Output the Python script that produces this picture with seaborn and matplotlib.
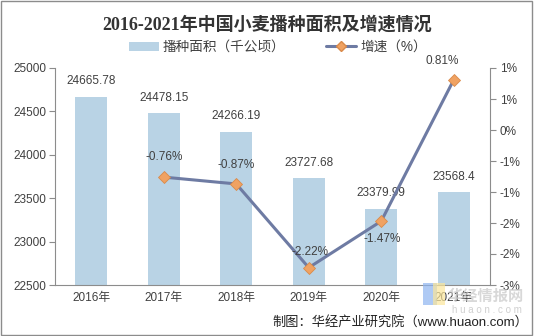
import numpy as np
import pandas as pd
import matplotlib
matplotlib.use("Agg")
import matplotlib.pyplot as plt
import seaborn as sns
from matplotlib.patches import Rectangle
from matplotlib.lines import Line2D
from matplotlib.patches import Patch

years = ["2016年", "2017年", "2018年", "2019年", "2020年", "2021年"]
area = [24665.78, 24478.15, 24266.19, 23727.68, 23379.99, 23568.4]
area_labels = ["24665.78", "24478.15", "24266.19", "23727.68", "23379.99", "23568.4"]
growth_years = ["2017年", "2018年", "2019年", "2020年", "2021年"]
growth = [-0.76, -0.87, -2.22, -1.47, 0.81]
left_ticks = [22500, 23000, 23500, 24000, 24500, 25000]
right_ticks = [-2.5, -2.0, -1.5, -1.0, -0.5, 0.0, 0.5, 1.0]

sns.set_style("white")
FAM = ["Liberation Sans", "Noto Sans CJK SC", "DejaVu Sans"]
plt.rcParams["font.family"] = FAM

BAR_C = "#B9D3E5"
LINE_C = "#6E7BA3"
MARK_C = "#F0A262"
TXT = "#404040"
AX_C = "#8C8C8C"

fig = plt.figure(figsize=(5.34, 3.36), dpi=100)
ax = fig.add_axes([55/534, 1-285/336, (490-55)/534, (285-68)/336])

df = pd.DataFrame({"year": years, "area": area})
sns.barplot(data=df, x="year", y="area", color=BAR_C, width=0.44, ax=ax,
            saturation=1, edgecolor="none")
ax.set_ylim(22500, 25000)
ax.set_xlim(-0.5, len(years) - 0.5)
ax.set_yticks(left_ticks)
ax.set_yticklabels([str(v) for v in left_ticks], fontsize=8.5, color=TXT)
ax.set_xlabel("")
ax.set_ylabel("")
ax.tick_params(axis="x", length=0, labelsize=8.5, labelcolor=TXT, pad=5)
ax.set_xticks(np.arange(-0.5, len(years)), minor=True)
ax.tick_params(axis="x", which="minor", length=4, color=AX_C, width=0.8)
ax.tick_params(axis="y", length=4, color=AX_C, width=0.8, pad=2, direction="out")
for s in ["top", "right"]:
    ax.spines[s].set_visible(False)
for s in ["left", "bottom"]:
    ax.spines[s].set_color(AX_C)
    ax.spines[s].set_linewidth(0.8)

for i, (v, lab) in enumerate(zip(area, area_labels)):
    ax.annotate(lab, (i, v), xytext=(0, 7), textcoords="offset points",
                ha="center", va="bottom", fontsize=8.5, color=TXT)

ax2 = ax.twinx()
gx = [years.index(y) for y in growth_years]
sns.lineplot(x=gx, y=growth, ax=ax2, color=LINE_C, linewidth=2.2,
             marker="D", markersize=6, markerfacecolor=MARK_C,
             markeredgecolor="#D98A4A", markeredgewidth=0.6)
ax2.set_ylim(-2.5, 1.0)
ax2.set_yticks(right_ticks)
def fmt(v):
    r = int(np.sign(v) * np.floor(abs(v) + 0.5))
    return f"{r}%"
ax2.set_yticklabels([fmt(v) for v in right_ticks], fontsize=8.5, color=TXT)
ax2.tick_params(axis="y", length=4, color=AX_C, width=0.8, pad=3)
for s in ["top", "left", "bottom"]:
    ax2.spines[s].set_visible(False)
ax2.spines["right"].set_color(AX_C)
ax2.spines["right"].set_linewidth(0.8)
ax2.set_xlim(-0.5, len(years) - 0.5)

offsets = [(0, 10), (0, 9), (1, 7), (1, -17), (-8, 9)]
for x, v, off in zip(gx, growth, offsets):
    ax2.annotate(f"{v:.2f}%", (x, v), xytext=off, textcoords="offset points",
                 ha="center", va="bottom", fontsize=8.5, color=TXT)

fig.text(0.5, 1-25/336, "2016-2021年中国小麦播种面积及增速情况", ha="center", va="center",
         fontsize=13, fontweight="bold", color="#333333",
         family=["Liberation Serif", "Noto Sans CJK SC"])

handles = [Patch(facecolor=BAR_C, edgecolor="none"),
           Line2D([0], [0], color=LINE_C, lw=2.2, marker="D", markersize=5,
                  markerfacecolor=MARK_C, markeredgecolor="#D98A4A")]
fig.legend(handles, ["播种面积（千公顷）", "增速（%）"], loc="center",
           bbox_to_anchor=(0.52, 1-47/336), ncol=2, frameon=False, fontsize=9.8,
           handlelength=2.2, handleheight=0.6, columnspacing=3.0, handletextpad=0.3,
           labelcolor=TXT)

fig.text(448/534, 1-297/336, "华经情报网", fontsize=11, fontweight="bold",
         color="#C8C8C8", ha="left", va="center", alpha=0.7)
fig.text(452/534, 1-310/336, "h u a o n . c o m", fontsize=7, color="#D0D0D0",
         ha="left", va="center")
fig.patches.append(Rectangle((423/534, 1-305/336), 14/534, 22/336, transform=fig.transFigure,
                             facecolor="#8DB4F0", alpha=0.7, edgecolor="none"))
fig.patches.append(Rectangle((433/534, 1-305/336), 12/534, 22/336, transform=fig.transFigure,
                             facecolor="#FBE69A", alpha=0.7, edgecolor="none"))

fig.text(528/534, 1-322/336, "制图：华经产业研究院（www.huaon.com）", ha="right",
         va="center", fontsize=9.5, color="#222222")

fig.patches.append(Rectangle((0.002, 0.003), 0.995, 0.994, transform=fig.transFigure,
                             facecolor="none", edgecolor="#8C8C8C", linewidth=1))

fig.savefig("out.png", dpi=100)
